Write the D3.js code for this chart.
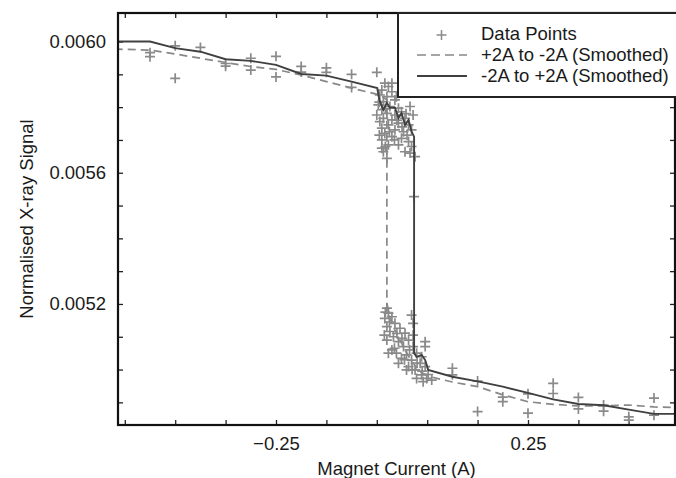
<!DOCTYPE html>
<html>
<head>
<meta charset="utf-8">
<script src="https://cdn.jsdelivr.net/npm/d3@7"></script>
<style>
	body { margin: 0; background: #fff; }
	text { font-family: "Liberation Sans", Arial, sans-serif; fill: #1a1a1a; }
</style>
</head>
<body>
<div id="chart-area"></div>
<script>
// measured data points (magnet current in A, normalised signal)
const pointCurrent = [
	-0.50, -0.50, -0.45, -0.45, -0.40, -0.35, -0.35, -0.30, -0.30, -0.25, -0.25,
	-0.20, -0.20, -0.15, -0.15, -0.10, -0.10, -0.05,
	// upper cluster
	-0.034, -0.027, -0.040, -0.020, -0.044, -0.030, -0.014, -0.037, -0.047, -0.024, -0.007,
	-0.040, -0.030, -0.014, -0.001, -0.050, -0.037, -0.020, 0.006, -0.044, -0.027, -0.007,
	0.013, -0.040, -0.014, 0.003, -0.034, 0.019, -0.020, -0.001, -0.040, 0.013, -0.027,
	-0.007, 0.019, -0.037, 0.006, 0.026, -0.030, 0.016, 0.022, 0.024, -0.020, -0.011,
	-0.045, -0.033, -0.010, 0.000, -0.025, -0.045, 0.010, -0.015, 0.016, -0.033, -0.040, 0.008,
	// lower cluster
	-0.030, -0.027, -0.034, -0.020, -0.014, -0.030, -0.024, -0.004, 0.006, -0.017, -0.030,
	-0.007, 0.013, 0.003, -0.020, 0.022, -0.011, -0.027, 0.009, 0.029, -0.001, 0.019,
	0.039, 0.046, 0.036, 0.013, 0.046, 0.026, 0.009, 0.039, 0.029, 0.049, 0.042,
	0.059, 0.022, 0.022, 0.019, 0.046, -0.007,
	-0.033, -0.025, -0.010, 0.000, -0.035, 0.015, 0.030, 0.040, 0.020, 0.052, -0.015, 0.005,
	0.10, 0.10, 0.15, 0.15, 0.20, 0.20, 0.25, 0.25, 0.30, 0.30, 0.35, 0.35,
	0.40, 0.40, 0.45, 0.45, 0.50, 0.50
]
const pointSignal = [
	0.005966, 0.005954, 0.005987, 0.005888, 0.005982, 0.005933, 0.005925, 0.005949, 0.005913, 0.005955, 0.005892,
	0.005924, 0.005907, 0.005920, 0.005906, 0.005900, 0.005860, 0.005906,
	0.005873, 0.005863, 0.005852, 0.005847, 0.005837, 0.005832, 0.005822, 0.005817, 0.005807, 0.005802, 0.005797,
	0.005792, 0.005781, 0.005776, 0.005786, 0.005776, 0.005766, 0.005761, 0.005766, 0.005756, 0.005746, 0.005751,
	0.005746, 0.005736, 0.005731, 0.005725, 0.005720, 0.005731, 0.005710, 0.005705, 0.005700, 0.005695, 0.005685,
	0.005685, 0.005680, 0.005664, 0.005664, 0.005649, 0.005644, 0.005802, 0.005776, 0.005527, 0.005873, 0.005832,
	0.005815, 0.005795, 0.005760, 0.005740, 0.005725, 0.005715, 0.005715, 0.005700, 0.005660, 0.005680, 0.005675, 0.005780,
	0.005187, 0.005172, 0.005156, 0.005161, 0.005141, 0.005131, 0.005116, 0.005126, 0.005111, 0.005100, 0.005090,
	0.005085, 0.005090, 0.005070, 0.005060, 0.005070, 0.005050, 0.005050, 0.005045, 0.005050, 0.005034, 0.005029,
	0.005039, 0.005085, 0.005019, 0.005009, 0.005009, 0.004999, 0.004999, 0.004984, 0.004973, 0.004973, 0.004963,
	0.004968, 0.005105, 0.005141, 0.005166, 0.005070, 0.005019,
	0.005175, 0.005145, 0.005110, 0.005095, 0.005105, 0.005060, 0.005020, 0.004995, 0.005000, 0.004985, 0.005065, 0.005030,
	0.005004, 0.004984, 0.004965, 0.004872, 0.004916, 0.004902, 0.004926, 0.004867, 0.004958, 0.004927, 0.004915, 0.004880,
	0.004892, 0.004873, 0.004856, 0.004846, 0.004913, 0.004861
]

// +2A to -2A (smoothed), dashed
const downCurrent = [
	-0.57, -0.50, -0.45, -0.40, -0.35, -0.30, -0.25, -0.20, -0.15, -0.10, -0.049, -0.038, -0.030,
	-0.030, -0.024, -0.014, -0.004, 0.006, 0.020, 0.036, 0.056, 0.10, 0.15, 0.20, 0.25, 0.30,
	0.35, 0.40, 0.45, 0.50, 0.55
]
const downSignal = [
	0.005977, 0.005974, 0.005962, 0.005949, 0.005936, 0.005924, 0.005915, 0.005898, 0.005878, 0.005858, 0.005839, 0.005831, 0.005822,
	0.005203, 0.005157, 0.005121, 0.005090, 0.005060, 0.005023, 0.004993, 0.004978, 0.004962, 0.004948, 0.004923, 0.004902, 0.004894,
	0.004889, 0.004889, 0.004892, 0.004886, 0.004884
]

// -2A to +2A (smoothed), solid
const upCurrent = [
	-0.57, -0.50, -0.45, -0.40, -0.35, -0.30, -0.25, -0.20, -0.15, -0.10, -0.049, -0.045, -0.037,
	-0.030, -0.024, -0.014, -0.007, -0.001, 0.006, 0.013, 0.019, 0.024, 0.024, 0.029, 0.039,
	0.046, 0.052, 0.10, 0.15, 0.20, 0.25, 0.30, 0.35, 0.40, 0.45, 0.50, 0.55
]
const upSignal = [
	0.006000, 0.006000, 0.005980, 0.005969, 0.005946, 0.005941, 0.005929, 0.005901, 0.005896, 0.005878, 0.005858, 0.005822, 0.005792,
	0.005813, 0.005798, 0.005798, 0.005767, 0.005782, 0.005746, 0.005761, 0.005725, 0.005710, 0.005050, 0.005039, 0.005045,
	0.005029, 0.004999, 0.004978, 0.004964, 0.004948, 0.004929, 0.004909, 0.004895, 0.004891, 0.004878, 0.004865, 0.004865
]

const xTicks = [-0.55, -0.45, -0.35, -0.25, -0.15, -0.05, 0.05, 0.15, 0.25, 0.35, 0.45]
const xTickLabels = [-0.25, 0.25]
const yTicks = [0.0049, 0.0050, 0.0051, 0.0052, 0.0053, 0.0054, 0.0055, 0.0056, 0.0057, 0.0058, 0.0059, 0.0060]
const yTickLabels = [0.0052, 0.0056, 0.0060]
const legendLabels = ["Data Points", "+2A to -2A (Smoothed)", "-2A to +2A (Smoothed)"]

const MARGIN = { LEFT: 118, RIGHT: 1, TOP: 13, BOTTOM: 53 }
const WIDTH = 676 - MARGIN.LEFT - MARGIN.RIGHT
const HEIGHT = 478 - MARGIN.TOP - MARGIN.BOTTOM
const FONT = "18.5px"

const svg = d3.select("#chart-area").append("svg")
	.attr("width", WIDTH + MARGIN.LEFT + MARGIN.RIGHT)
	.attr("height", HEIGHT + MARGIN.TOP + MARGIN.BOTTOM)

const g = svg.append("g")
	.attr("transform", `translate(${MARGIN.LEFT}, ${MARGIN.TOP})`)

const x = d3.scaleLinear()
	.domain([-0.5635, 0.5417])
	.range([0, WIDTH])

const y = d3.scaleLinear()
	.domain([0.004831, 0.006087])
	.range([HEIGHT, 0])

g.append("clipPath").attr("id", "plot-clip")
	.append("rect")
	.attr("width", WIDTH)
	.attr("height", HEIGHT)

const fmtX = d => xTickLabels.some(v => Math.abs(v - d) < 1e-9) ? d3.format(".2f")(d) : ""
const fmtY = d => yTickLabels.some(v => Math.abs(v - d) < 1e-9) ? d3.format(".4f")(d) : ""

// axes (ticks point inwards)
g.append("g")
	.attr("transform", `translate(0, ${HEIGHT})`)
	.call(d3.axisBottom(x).tickValues(xTicks).tickSize(-5).tickPadding(12).tickFormat(fmtX))
g.append("g")
	.call(d3.axisTop(x).tickValues(xTicks).tickSize(-5).tickFormat(""))
g.append("g")
	.call(d3.axisLeft(y).tickValues(yTicks).tickSize(-5).tickPadding(12).tickFormat(fmtY))
g.append("g")
	.attr("transform", `translate(${WIDTH}, 0)`)
	.call(d3.axisRight(y).tickValues(yTicks).tickSize(-5).tickFormat(""))

g.selectAll(".domain").remove()
g.selectAll(".tick line").attr("stroke", "#222").attr("stroke-width", 1.3)
g.selectAll(".tick text")
	.attr("font-size", FONT)
	.attr("font-family", "Liberation Sans, Arial, sans-serif")
	.attr("fill", "#1a1a1a")

// data points drawn as plus signs
const plusPath = "M-5,0H5M0,-5V5"
const plotArea = g.append("g").attr("clip-path", "url(#plot-clip)")

plotArea.selectAll("path.pt")
	.data(pointCurrent.map((c, i) => ({ c: c, s: pointSignal[i] })))
	.enter().append("path")
	.attr("class", "pt")
	.attr("d", plusPath)
	.attr("transform", d => `translate(${x(d.c)}, ${y(d.s)})`)
	.attr("stroke", "#8a8a8a")
	.attr("stroke-width", 1.7)
	.attr("fill", "none")

const line = d3.line()
	.x(d => x(d[0]))
	.y(d => y(d[1]))

plotArea.append("path")
	.datum(downCurrent.map((c, i) => [c, downSignal[i]]))
	.attr("d", line)
	.attr("fill", "none")
	.attr("stroke", "#888")
	.attr("stroke-width", 1.7)
	.attr("stroke-dasharray", "8,5")

plotArea.append("path")
	.datum(upCurrent.map((c, i) => [c, upSignal[i]]))
	.attr("d", line)
	.attr("fill", "none")
	.attr("stroke", "#404040")
	.attr("stroke-width", 1.9)

// frame
g.append("rect")
	.attr("width", WIDTH)
	.attr("height", HEIGHT)
	.attr("fill", "none")
	.attr("stroke", "#111")
	.attr("stroke-width", 2.2)

// legend
const legend = svg.append("g")
legend.append("rect")
	.attr("x", 398)
	.attr("y", MARGIN.TOP)
	.attr("width", 280)
	.attr("height", 84)
	.attr("fill", "#fff")
	.attr("stroke", "#222")
	.attr("stroke-width", 2)

legend.append("path")
	.attr("d", plusPath)
	.attr("transform", "translate(441.5, 35)")
	.attr("stroke", "#8a8a8a")
	.attr("stroke-width", 1.5)
legend.append("line")
	.attr("x1", 417).attr("x2", 467).attr("y1", 55).attr("y2", 55)
	.attr("stroke", "#888").attr("stroke-width", 1.7).attr("stroke-dasharray", "9,5")
legend.append("line")
	.attr("x1", 417).attr("x2", 467).attr("y1", 76).attr("y2", 76)
	.attr("stroke", "#404040").attr("stroke-width", 1.9)

legend.selectAll("text.leg")
	.data(legendLabels)
	.enter().append("text")
	.attr("class", "leg")
	.attr("x", 481)
	.attr("y", (d, i) => 40 + i * 21)
	.attr("font-size", FONT)
	.text(d => d)

// X label
svg.append("text")
	.attr("x", MARGIN.LEFT + WIDTH / 2)
	.attr("y", 475)
	.attr("font-size", FONT)
	.attr("text-anchor", "middle")
	.text("Magnet Current (A)")

// Y label
svg.append("text")
	.attr("x", -(MARGIN.TOP + HEIGHT / 2))
	.attr("y", 33)
	.attr("font-size", FONT)
	.attr("text-anchor", "middle")
	.attr("transform", "rotate(-90)")
	.text("Normalised X-ray Signal")
</script>
</body>
</html>
